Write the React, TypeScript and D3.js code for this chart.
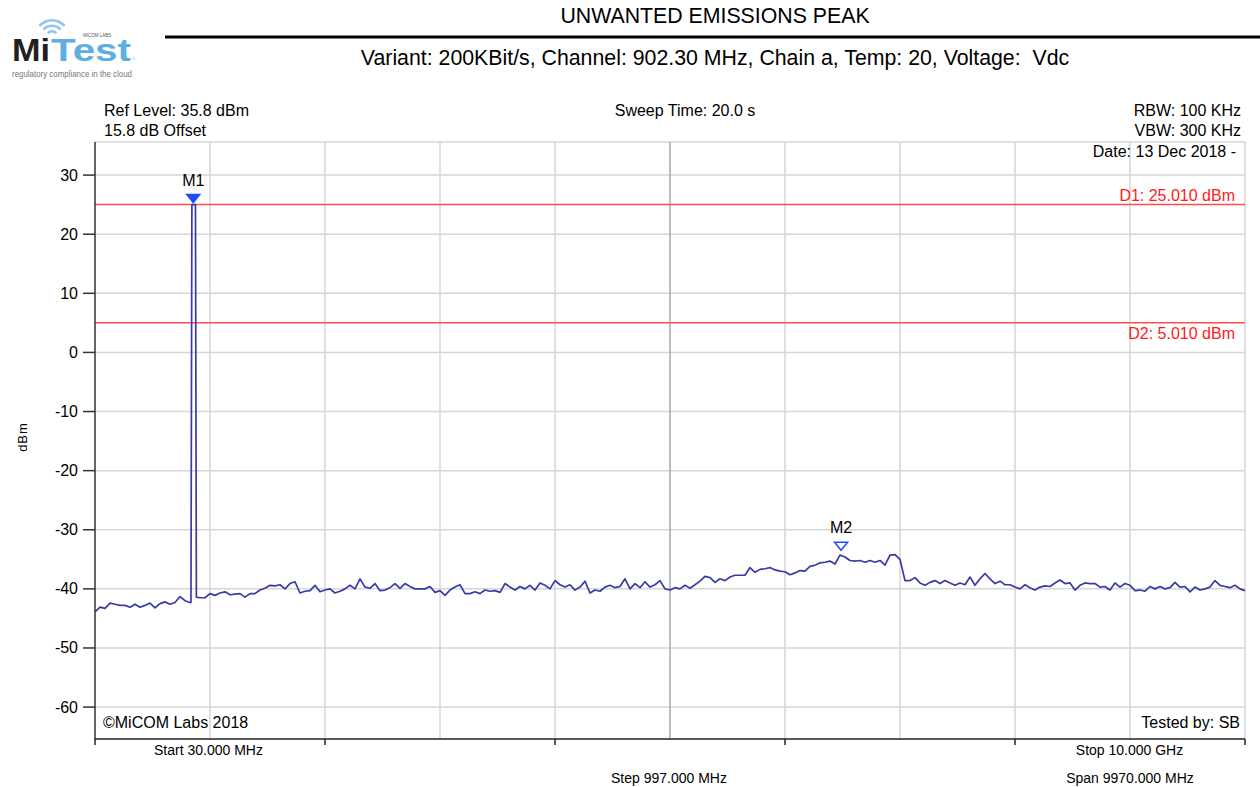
import React from "react";
import * as d3 from "d3";

// ---------- data ----------
const startMHz = 30;
const stopMHz = 10000;
const stepMHz = 997;

// peak trace, equally spaced sweep points from start to stop (dBm)
const traceDbm = [
  -43.9, -43.1, -43.3, -42.4, -42.6, -42.8, -42.8, -43.1, -42.6, -43.1,
  -42.8, -42.4, -43.2, -42.5, -42.2, -42.6, -42.3, -41.3, -42.0, -42.3,
  25.0, -41.5, -41.5, -40.8, -41.1, -40.7, -40.5, -41.0, -40.9, -40.8,
  -41.4, -40.8, -40.8, -40.2, -39.9, -39.4, -39.5, -39.3, -40.0, -39.1,
  -38.8, -40.7, -40.4, -40.3, -39.4, -40.5, -40.2, -40.0, -40.7, -40.4,
  -40.0, -39.4, -40.0, -38.3, -39.7, -39.9, -39.1, -40.3, -40.2, -39.8,
  -39.1, -39.9, -39.1, -39.6, -40.0, -40.0, -40.0, -39.6, -40.6, -40.3,
  -41.1, -40.2, -39.7, -39.3, -40.8, -40.8, -40.5, -40.8, -40.2, -40.4,
  -40.3, -40.6, -39.1, -39.7, -40.2, -39.6, -40.0, -39.4, -40.2, -39.0,
  -39.4, -40.0, -38.6, -39.3, -39.7, -39.3, -40.2, -39.7, -38.7, -40.7,
  -40.2, -40.4, -39.7, -39.4, -39.8, -39.6, -38.3, -40.0, -39.1, -39.8,
  -38.8, -39.7, -39.3, -38.6, -40.0, -40.2, -39.8, -40.0, -39.4, -39.9,
  -39.3, -38.7, -37.9, -38.1, -38.9, -38.3, -38.6, -38.0, -37.7, -37.7,
  -37.7, -36.4, -37.2, -36.7, -36.6, -36.4, -36.8, -37.0, -37.1, -37.6,
  -37.3, -36.9, -37.0, -36.2, -36.0, -35.6, -35.5, -35.3, -35.8, -34.3,
  -34.6, -35.2, -35.3, -35.2, -35.5, -35.2, -35.5, -35.2, -36.0, -34.3,
  -34.2, -35.0, -38.6, -38.6, -38.1, -39.0, -39.4, -38.9, -38.6, -39.1,
  -38.6, -39.0, -39.4, -39.0, -39.3, -38.0, -39.4, -38.3, -37.4, -38.3,
  -39.1, -38.7, -39.3, -39.3, -39.7, -40.0, -39.3, -39.8, -40.2, -39.7,
  -39.5, -39.6, -39.0, -38.5, -39.1, -39.0, -40.2, -39.4, -39.0, -39.1,
  -39.1, -39.7, -39.6, -40.2, -39.0, -39.7, -39.1, -39.4, -40.3, -40.2,
  -40.4, -39.6, -40.0, -39.6, -40.0, -39.8, -38.9, -39.7, -39.6, -40.5,
  -39.7, -40.2, -40.0, -39.7, -38.6, -39.4, -39.6, -39.8, -39.4, -40.0,
  -40.3,
];

// fine sweep points of the carrier (these replace the coarse points in their span)
const carrierMHz = [862, 870, 901, 909];
const carrierDbm = [-42.3, 25.0, 25.0, -41.4];

const yTicks = [30, 20, 10, 0, -10, -20, -30, -40, -50, -60];

const markerNames = ["M1", "M2"];
const markerMHz = [882, 6498];
const markerDbm = [25.01, -33.8];
const markerFilled = [true, false];

const lineNames = ["D1", "D2"];
const lineDbm = [25.01, 5.01];
const lineLabels = ["D1: 25.010 dBm", "D2: 5.010 dBm"];

const title = "UNWANTED EMISSIONS PEAK";
const subtitle =
  "Variant: 200KBit/s, Channel: 902.30 MHz, Chain a, Temp: 20, Voltage:  Vdc";

// ---------- layout ----------
const W = 1260;
const H = 787;
const PL = 95;
const PR = 1245;
const PT = 142;
const PB = 739;
const FONT = "'Liberation Sans', Arial, Helvetica, sans-serif";

export default function App() {
  const x = d3.scaleLinear().domain([startMHz, stopMHz]).range([PL, PR]);
  const y = d3.scaleLinear().domain([-65.4, 35.6]).range([PB, PT]);

  const n = traceDbm.length;
  const fStep = (stopMHz - startMHz) / (n - 1);
  const cLo = carrierMHz[0];
  const cHi = carrierMHz[carrierMHz.length - 1];
  const pts: [number, number][] = traceDbm
    .map((v, i) => [startMHz + i * fStep, v] as [number, number])
    .filter(([f]) => f < cLo || f > cHi)
    .concat(carrierMHz.map((f, i) => [f, carrierDbm[i]] as [number, number]))
    .sort((a, b) => a[0] - b[0]);

  const line = d3
    .line<[number, number]>()
    .x((d) => x(d[0]))
    .y((d) => y(d[1]));

  const divisions = d3.range(0, 11).map((k) => startMHz + k * stepMHz);

  const arc = d3.arc();
  const wifi = [
    { r0: 4.5, r1: 7 },
    { r0: 10, r1: 12.5 },
    { r0: 15.5, r1: 18 },
  ];

  return (
    <svg
      width={W}
      height={H}
      style={{ position: "absolute", left: 0, top: 0, background: "#fff" }}
      fontFamily={FONT}
    >
      <rect x={0} y={0} width={W} height={H} fill="#fff" />

      {/* logo */}
      <g>
        {wifi.map((w, i) => (
          <path
            key={i}
            transform="translate(52,37)"
            d={
              arc({
                innerRadius: w.r0,
                outerRadius: w.r1,
                startAngle: -0.85,
                endAngle: 0.85,
              } as any) || ""
            }
            fill="#8fc6ea"
          />
        ))}
        <text
          x={12}
          y={61}
          fontSize={32}
          fontWeight="bold"
          fill="#231f20"
          textLength={38}
          lengthAdjust="spacingAndGlyphs"
        >
          Mi
        </text>
        <text
          x={51}
          y={61}
          fontSize={32}
          fontWeight="bold"
          fill="#5eaee3"
          textLength={80}
          lengthAdjust="spacingAndGlyphs"
        >
          Test
        </text>
        <text x={83} y={36.5} fontSize={4.5} fill="#555">
          MICOM LABS
        </text>
        <text x={132} y={60} fontSize={4} fill="#5eaee3">
          ®
        </text>
        <text
          x={12}
          y={77}
          fontSize={8.5}
          fill="#777"
          textLength={120}
          lengthAdjust="spacingAndGlyphs"
        >
          regulatory compliance in the cloud
        </text>
      </g>

      {/* title */}
      <text x={715} y={23} fontSize={21.3} textAnchor="middle" fill="#000">
        {title}
      </text>
      <line x1={165} x2={1260} y1={37} y2={37} stroke="#000" strokeWidth={3} />
      <text
        x={715}
        y={65}
        fontSize={21.3}
        textAnchor="middle"
        fill="#000"
        style={{ whiteSpace: "pre" }}
        xmlSpace="preserve"
      >
        {subtitle}
      </text>

      {/* header info */}
      <text x={104} y={116} fontSize={16}>Ref Level: 35.8 dBm</text>
      <text x={104} y={136} fontSize={16}>15.8 dB Offset</text>
      <text x={685} y={116} fontSize={16} textAnchor="middle">
        Sweep Time: 20.0 s
      </text>
      <text x={1241} y={116} fontSize={16} textAnchor="end">RBW: 100 KHz</text>
      <text x={1241} y={136} fontSize={16} textAnchor="end">VBW: 300 KHz</text>

      {/* grid */}
      <line x1={PL} x2={PR} y1={PT} y2={PT} stroke="#d6d6d6" strokeWidth={1.5} />
      {yTicks.map((t) => (
        <line
          key={"h" + t}
          x1={PL}
          x2={PR}
          y1={y(t)}
          y2={y(t)}
          stroke="#d6d6d6"
          strokeWidth={1.5}
        />
      ))}
      {divisions.slice(1).map((f, k) => (
        <line
          key={"v" + k}
          x1={x(f)}
          x2={x(f)}
          y1={PT}
          y2={PB}
          stroke={k === 4 ? "#a8a8a8" : "#d6d6d6"}
          strokeWidth={1.5}
        />
      ))}

      <text x={1236} y={157} fontSize={16} textAnchor="end">
        Date: 13 Dec 2018 -
      </text>

      {/* display lines */}
      {lineDbm.map((v, i) => (
        <g key={lineNames[i]}>
          <line
            x1={PL}
            x2={PR}
            y1={y(v)}
            y2={y(v)}
            stroke="#ff4d4d"
            strokeWidth={1.5}
          />
          <text
            x={1235}
            y={i === 0 ? y(v) - 4 : y(v) + 16}
            fontSize={16}
            textAnchor="end"
            fill="#ff1a1a"
          >
            {lineLabels[i]}
          </text>
        </g>
      ))}

      {/* trace */}
      <path
        d={line(pts) || ""}
        fill="none"
        stroke="#3a3aa6"
        strokeWidth={1.7}
        strokeLinejoin="round"
      />

      {/* markers */}
      {markerNames.map((m, i) => {
        const mx = x(markerMHz[i]);
        const my = y(markerDbm[i]) - 2;
        return (
          <g key={m}>
            <path
              d={`M${mx - 6.5},${my - 8} L${mx + 6.5},${my - 8} L${mx},${my} Z`}
              fill={markerFilled[i] ? "#1f4bff" : "#fff"}
              stroke="#1f4bff"
              strokeWidth={1.5}
            />
            <text x={mx} y={my - 17} fontSize={16} textAnchor="middle">
              {m}
            </text>
          </g>
        );
      })}

      {/* axes */}
      <line x1={PL} x2={PL} y1={PT} y2={PB} stroke="#333" strokeWidth={1.5} />
      {yTicks.map((t) => (
        <g key={"yt" + t}>
          <line x1={83} x2={PL} y1={y(t)} y2={y(t)} stroke="#333" strokeWidth={1.5} />
          <text x={78} y={y(t) + 5.5} fontSize={16} textAnchor="end">
            {t}
          </text>
        </g>
      ))}
      <line x1={PL} x2={PR} y1={PB} y2={PB} stroke="#222" strokeWidth={1.5} />
      {divisions
        .filter((_, k) => k % 2 === 0)
        .map((f) => (
          <line
            key={"xt" + f}
            x1={x(f)}
            x2={x(f)}
            y1={PB}
            y2={PB + 6}
            stroke="#222"
            strokeWidth={1.5}
          />
        ))}

      <text
        transform="translate(27,437) rotate(-90)"
        fontSize={13}
        textAnchor="middle"
        letterSpacing={1}
      >
        dBm
      </text>

      <text x={103} y={728} fontSize={16}>©MiCOM Labs 2018</text>
      <text x={1240} y={728} fontSize={16} textAnchor="end">Tested by: SB</text>

      <text x={208.5} y={755} fontSize={14} textAnchor="middle">
        Start 30.000 MHz
      </text>
      <text x={1129.5} y={755} fontSize={14} textAnchor="middle">
        Stop 10.000 GHz
      </text>
      <text x={669} y={783} fontSize={14} textAnchor="middle">
        Step 997.000 MHz
      </text>
      <text x={1130} y={783} fontSize={14} textAnchor="middle">
        Span 9970.000 MHz
      </text>
    </svg>
  );
}
